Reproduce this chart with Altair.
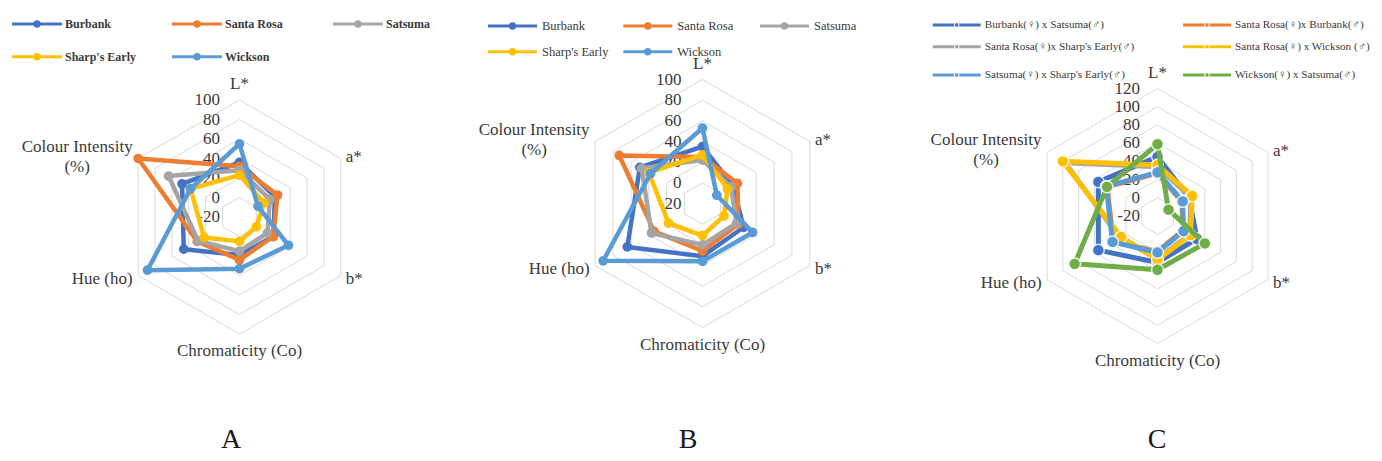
import altair as alt
import pandas as pd

# ---------------- data ----------------
AXES = ["L*", "a*", "b*", "Chromaticity (Co)", "Hue (ho)", "Colour Intensity (%)"]
AXIS_TEXT = ["L*", "a*", "b*", "Chromaticity (Co)", "Hue (ho)", "Colour Intensity\n(%)"]

A_SERIES = ["Burbank", "Santa Rosa", "Satsuma", "Sharp's Early", "Wickson"]
A_BURBANK = [36, 22, 20, 19, 46, 48]
A_SANTA_ROSA = [32, 25, 20, 24, 30, 100]
A_SATSUMA = [28, 16, 13, 15, 29, 64]
A_SHARPS_EARLY = [23, 9, 0, 5, 22, 38]
A_WICKSON = [55, 2, 38, 33, 89, 38]

B_SERIES = ["Burbank", "Santa Rosa", "Satsuma", "Sharp's Early", "Wickson"]
B_BURBANK = [35, 14, 26, 31, 64, 50]
B_SANTA_ROSA = [25, 19, 20, 26, 34, 73]
B_SATSUMA = [22, 12, 18, 20, 37, 48]
B_SHARPS_EARLY = [27, 8, 4, 11, 18, 40]
B_WICKSON = [53, -4, 36, 36, 91, 38]

C_SERIES = ["Burbank(♀) x Satsuma(♂)", "Santa Rosa(♀)x Burbank(♂)",
            "Santa Rosa(♀)x Sharp's Early(♂)", "Santa Rosa(♀) x Wickson (♂)",
            "Satsuma(♀) x Sharp's Early(♂)", "Wickson(♀) x Satsuma(♂)"]
C_BURBANK_X_SATSUMA = [45, 20, 30, 31, 55, 55]
C_SANTAROSA_X_BURBANK = [27, 11, 12, 19, 36, 44]
C_SANTAROSA_X_SHARPS = [34, 22, 21, 27, 28, 97]
C_SANTAROSA_X_WICKSON = [36, 24, 22, 28, 26, 100]
C_SATSUMA_X_SHARPS = [28, 12, 13, 20, 37, 45]
C_WICKSON_X_SATSUMA = [59, -6, 40, 39, 85, 44]

TICKS_AB = [-20, 0, 20, 40, 60, 80, 100]
TICKS_C = [-20, 0, 20, 40, 60, 80, 100, 120]
PANEL_LETTERS = ["A", "B", "C"]

PANEL_DATA = {
    "A": (A_SERIES, [A_BURBANK, A_SANTA_ROSA, A_SATSUMA, A_SHARPS_EARLY, A_WICKSON], TICKS_AB),
    "B": (B_SERIES, [B_BURBANK, B_SANTA_ROSA, B_SATSUMA, B_SHARPS_EARLY, B_WICKSON], TICKS_AB),
    "C": (C_SERIES, [C_BURBANK_X_SATSUMA, C_SANTAROSA_X_BURBANK, C_SANTAROSA_X_SHARPS,
                     C_SANTAROSA_X_WICKSON, C_SATSUMA_X_SHARPS, C_WICKSON_X_SATSUMA], TICKS_C),
}

# ---------------- styles / layout ----------------
SERIES_COLORS = ["#4472C4", "#ED7D31", "#A5A5A5", "#FFC000", "#5B9BD5", "#70AD47"]
W, H = 1366, 445
SERIF = "Liberation Serif, Times New Roman, serif"
TEXT = "#3a3a3a"

LAYOUT = {
    "A": dict(cx=231.5, cy=209.0, R=117.0, tick_dx=-19.5, grid="#D9D9D9",
              line_w=4.5, pt_size=95, pt_stroke=0,
              leg_cols=[4, 164, 325], leg_rows=[16, 48.7], leg_len=50, leg_gap=3, leg_ncol=3,
              leg_font=12, leg_weight="bold", leg_pt=55, leg_pt_stroke=0, leg_lw=3, letter_x=223),
    "B": dict(cx=694.5, cy=195.5, R=124.0, tick_dx=-21, grid="#D9D9D9",
              line_w=4.5, pt_size=95, pt_stroke=0,
              leg_cols=[480, 615.3, 752], leg_rows=[18, 43.7], leg_len=49, leg_gap=5, leg_ncol=3,
              leg_font=12.5, leg_weight="normal", leg_pt=55, leg_pt_stroke=0, leg_lw=3, letter_x=680),
    "C": dict(cx=1149.5, cy=208.0, R=127.5, tick_dx=-17.5, grid="#D6DCE4",
              line_w=5, pt_size=140, pt_stroke=1.5,
              leg_cols=[924.7, 1175], leg_rows=[17, 38.7, 67], leg_len=48, leg_gap=4, leg_ncol=2,
              leg_font=11.2, leg_weight="normal", leg_pt=22, leg_pt_stroke=1, leg_lw=3, letter_x=1149),
}

LABEL_STYLE = [  # align, dx, dy  (per axis)
    ("center", 0, -16),
    ("left", 5, -1.5),
    ("left", 5, 3),
    ("center", 0, 17),
    ("right", -5.5, 3),
    ("center", -61, -12),
]

XS = alt.Scale(domain=[0, W], nice=False, zero=False)
YS = alt.Scale(domain=[0, H], nice=False, zero=False, reverse=True)


def X(f):
    return alt.X(f"{f}:Q", scale=XS, axis=None)


def Y(f):
    return alt.Y(f"{f}:Q", scale=YS, axis=None)


def polar(ch, p, vmin, vmax):
    L = LAYOUT[p]
    return ch.transform_calculate(
        r=f"(datum.value - ({vmin})) / ({vmax - vmin}) * {L['R']}",
    ).transform_calculate(
        px=f"{L['cx']} + datum.r * sin(datum.axis_idx * PI / 3)",
        py=f"{L['cy']} - datum.r * cos(datum.axis_idx * PI / 3)",
    )


layers = []
for pi, p in enumerate(["A", "B", "C"]):
    L = LAYOUT[p]
    names, series_vals, ticks = PANEL_DATA[p]
    vmin, vmax = ticks[0], ticks[-1]

    # grid hexagons
    grid = pd.DataFrame([{"level": t, "axis_idx": i, "value": t}
                         for t in ticks[1:] for i in range(6)])
    layers.append(polar(alt.Chart(grid), p, vmin, vmax).mark_line(
        interpolate="linear-closed", stroke=L["grid"], strokeWidth=1
    ).encode(x=X("px"), y=Y("py"), detail="level:N", order="axis_idx:Q"))

    # tick labels
    tk = pd.DataFrame({"value": ticks, "label": [str(t) for t in ticks], "axis_idx": 0})
    layers.append(polar(alt.Chart(tk), p, vmin, vmax).transform_calculate(
        tx=f"datum.px + ({L['tick_dx']})"
    ).mark_text(align="right", baseline="middle", font=SERIF, fontSize=17, color=TEXT
                ).encode(x=X("tx"), y=Y("py"), text="label:N"))

    # axis labels
    for i, (ax, txt) in enumerate(zip(AXES, AXIS_TEXT)):
        align, dx, dy = LABEL_STYLE[i]
        ld = pd.DataFrame({"axis": [ax], "text": [txt], "axis_idx": [i], "value": [vmax]})
        layers.append(polar(alt.Chart(ld), p, vmin, vmax).mark_text(
            align=align, baseline="middle", dx=dx, dy=dy, font=SERIF, fontSize=17,
            color=TEXT, lineBreak="\n", lineHeight=20
        ).encode(x=X("px"), y=Y("py"), text="text:N"))

    # series
    for si, (name, vals) in enumerate(zip(names, series_vals)):
        col = SERIES_COLORS[si]
        sd = pd.DataFrame({"series": name, "axis": AXES, "axis_idx": range(6), "value": vals})
        base = polar(alt.Chart(sd), p, vmin, vmax)
        layers.append(base.mark_line(
            interpolate="linear-closed", strokeWidth=L["line_w"], strokeJoin="round"
        ).encode(x=X("px"), y=Y("py"), order="axis_idx:Q", stroke=alt.value(col)))
        pt_kw = dict(filled=True, size=L["pt_size"], opacity=1)
        if L["pt_stroke"]:
            pt_kw.update(stroke="white", strokeWidth=L["pt_stroke"], strokeOpacity=0.8)
        layers.append(base.mark_point(**pt_kw).encode(
            x=X("px"), y=Y("py"), fill=alt.value(col),
            tooltip=["series:N", "axis:N", "value:Q"]))

    # legend
    ncol = L["leg_ncol"]
    lg = pd.DataFrame({"series": names, "idx": range(len(names)),
                       "color": SERIES_COLORS[:len(names)]})
    lg["row"] = lg["idx"] // ncol
    lg["col"] = lg["idx"] % ncol
    lbase = alt.Chart(lg).transform_calculate(
        lx0=f"{L['leg_cols']}[datum.col]",
        ly=f"{L['leg_rows']}[datum.row]",
    ).transform_calculate(
        lx1=f"datum.lx0 + {L['leg_len']}",
        lxm=f"datum.lx0 + {L['leg_len'] / 2}",
        lxt=f"datum.lx0 + {L['leg_len'] + L['leg_gap']}",
    )
    layers.append(lbase.mark_rule(strokeWidth=L["leg_lw"]).encode(
        x=X("lx0"), x2="lx1:Q", y=Y("ly"),
        color=alt.Color("color:N", scale=None, legend=None)))
    lp_kw = dict(filled=True, size=L["leg_pt"], opacity=1)
    if L["leg_pt_stroke"]:
        lp_kw.update(stroke="white", strokeWidth=L["leg_pt_stroke"])
    layers.append(lbase.mark_point(**lp_kw).encode(
        x=X("lxm"), y=Y("ly"), fill=alt.Fill("color:N", scale=None, legend=None)))
    layers.append(lbase.mark_text(
        align="left", baseline="middle", font=SERIF, fontSize=L["leg_font"],
        fontWeight=L["leg_weight"], color=TEXT
    ).encode(x=X("lxt"), y=Y("ly"), text="series:N"))

    # panel letter
    pl = pd.DataFrame({"letter": [PANEL_LETTERS[pi]]})
    layers.append(alt.Chart(pl).transform_calculate(
        lx=f"{L['letter_x']}", ly=f"{H - 5}"
    ).mark_text(align="center", baseline="alphabetic", font=SERIF, fontSize=28,
                color="#1a1a1a").encode(x=X("lx"), y=Y("ly"), text="letter:N"))

chart = alt.layer(*layers).properties(
    width=W, height=H, padding=0, autosize=alt.AutoSizeParams(type="none")
).configure_view(strokeOpacity=0)

chart.save("out.html", embed_options={"renderer": "svg", "actions": False})
